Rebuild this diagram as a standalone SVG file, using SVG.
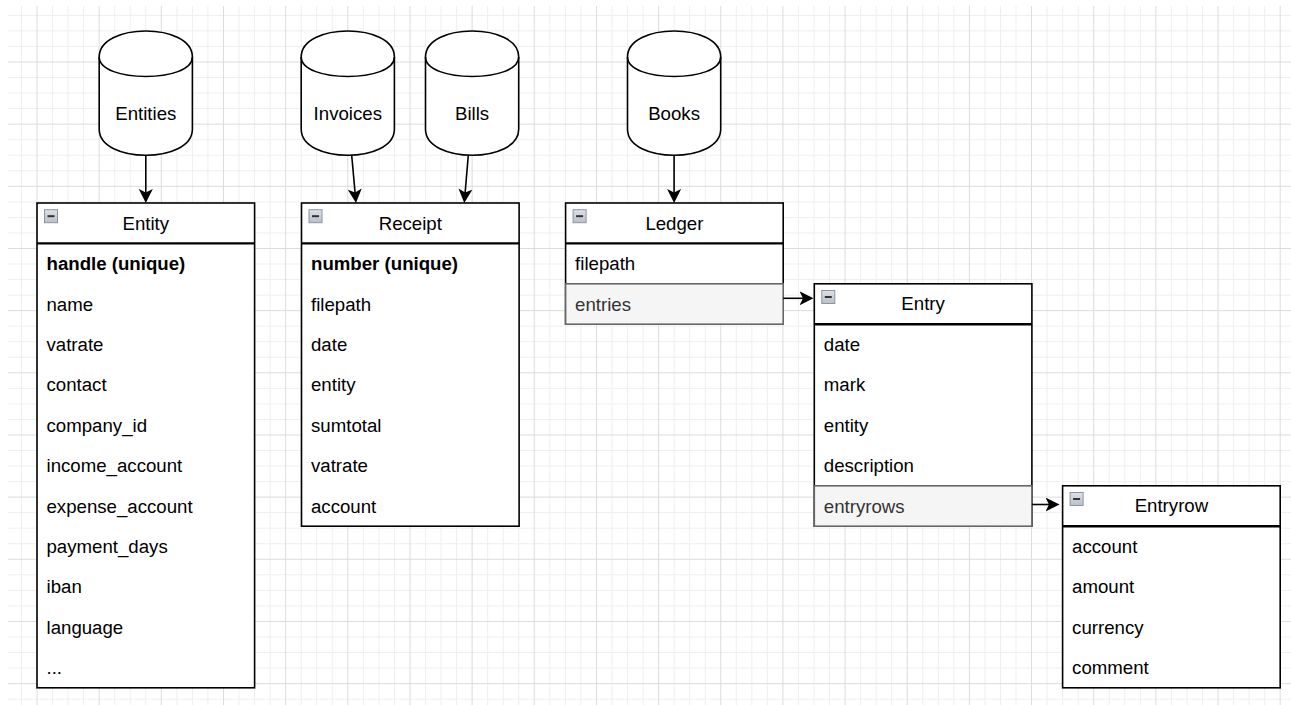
<svg xmlns="http://www.w3.org/2000/svg" xmlns:xlink="http://www.w3.org/1999/xlink" width="1291" height="705" viewBox="0 0 1291 705">
  <style>
    .grid-minor { fill: none; stroke: #efefef; stroke-width: 1; }
    .grid-major { fill: none; stroke: #dcdcdc; stroke-width: 1; }
    .box { fill: #ffffff; stroke: #000000; stroke-width: 1.6; }
    .sep { stroke: #000000; stroke-width: 2.4; }
    .alt { fill: #f5f5f5; stroke: #666666; stroke-width: 1.6; }
    .cyl { fill: #ffffff; stroke: #000000; stroke-width: 1.6; }
    .cyl-front { fill: none; stroke: #000000; stroke-width: 1.6; }
    text { font-family: "Liberation Sans", Arial, Helvetica, sans-serif; font-size: 18.65px; fill: #000000; }
    .title { text-anchor: middle; }
    .key { font-weight: bold; }
    .alt-text { fill: #333333; }
    .edge { fill: none; stroke: #000000; stroke-width: 1.6; marker-end: url(#arrow); }
  </style>
  <defs>
    <linearGradient id="togFill" x1="0" y1="0" x2="0" y2="1">
      <stop offset="0" stop-color="#dde1e8"/>
      <stop offset="1" stop-color="#b9c0cb"/>
    </linearGradient>
    <!-- collapse toggle shown in each table header -->
    <g id="toggle">
      <rect x="0.5" y="0.5" width="13" height="13" fill="url(#togFill)" stroke="#8e949d" stroke-width="1"/>
      <line x1="3.5" y1="7" x2="10.5" y2="7" stroke="#333333" stroke-width="2"/>
    </g>
    <!-- database cylinder, 93.2 x 124.2 -->
    <g id="cylinder">
      <path class="cyl" d="M0,26 C0,-8.67 93.2,-8.67 93.2,26 L93.2,98.2 C93.2,132.87 0,132.87 0,98.2 Z"/>
      <path class="cyl-front" d="M0,26 C0,52 93.2,52 93.2,26"/>
    </g>
    <marker id="arrow" markerUnits="userSpaceOnUse" viewBox="0 0 14 14" markerWidth="14" markerHeight="14" refX="4" refY="7" orient="auto">
      <path d="M14,7 L0,0 L3.5,7 L0,14 Z" fill="#000000"/>
    </marker>
  </defs>

  <rect x="0" y="0" width="1291" height="705" fill="#ffffff"/>

  <!-- background grid -->
  <g id="grid">
    <path class="grid-minor" d="M21.46 6V705M52.54 6V705M68.08 6V705M83.62 6V705M114.7 6V705M130.24 6V705M145.78 6V705M176.86 6V705M192.4 6V705M207.94 6V705M239.02 6V705M254.56 6V705M270.1 6V705M301.18 6V705M316.72 6V705M332.26 6V705M363.34 6V705M378.88 6V705M394.42 6V705M425.5 6V705M441.04 6V705M456.58 6V705M487.66 6V705M503.2 6V705M518.74 6V705M549.82 6V705M565.36 6V705M580.9 6V705M611.98 6V705M627.52 6V705M643.06 6V705M674.14 6V705M689.68 6V705M705.22 6V705M736.3 6V705M751.84 6V705M767.38 6V705M798.46 6V705M814 6V705M829.54 6V705M860.62 6V705M876.16 6V705M891.7 6V705M922.78 6V705M938.32 6V705M953.86 6V705M984.94 6V705M1000.48 6V705M1016.02 6V705M1047.1 6V705M1062.64 6V705M1078.18 6V705M1109.26 6V705M1124.8 6V705M1140.34 6V705M1171.42 6V705M1186.96 6V705M1202.5 6V705M1233.58 6V705M1249.12 6V705M1264.66 6V705"/>
    <path class="grid-minor" d="M8 15.38H1291M8 30.92H1291M8 46.46H1291M8 77.54H1291M8 93.08H1291M8 108.62H1291M8 139.7H1291M8 155.24H1291M8 170.78H1291M8 201.86H1291M8 217.4H1291M8 232.94H1291M8 264.02H1291M8 279.56H1291M8 295.1H1291M8 326.18H1291M8 341.72H1291M8 357.26H1291M8 388.34H1291M8 403.88H1291M8 419.42H1291M8 450.5H1291M8 466.04H1291M8 481.58H1291M8 512.66H1291M8 528.2H1291M8 543.74H1291M8 574.82H1291M8 590.36H1291M8 605.9H1291M8 636.98H1291M8 652.52H1291M8 668.06H1291M8 699.14H1291"/>
    <path class="grid-major" d="M37 6V705M99.16 6V705M161.32 6V705M223.48 6V705M285.64 6V705M347.8 6V705M409.96 6V705M472.12 6V705M534.28 6V705M596.44 6V705M658.6 6V705M720.76 6V705M782.92 6V705M845.08 6V705M907.24 6V705M969.4 6V705M1031.56 6V705M1093.72 6V705M1155.88 6V705M1218.04 6V705M1280.2 6V705"/>
    <path class="grid-major" d="M8 62H1291M8 124.16H1291M8 186.32H1291M8 248.48H1291M8 310.64H1291M8 372.8H1291M8 434.96H1291M8 497.12H1291M8 559.28H1291M8 621.44H1291M8 683.6H1291"/>
  </g>

  <!-- data stores -->
  <g id="store-entities">
    <use href="#cylinder" xlink:href="#cylinder" x="99.2" y="31"/>
    <text class="title" x="145.8" y="119.5">Entities</text>
  </g>
  <g id="store-invoices">
    <use href="#cylinder" xlink:href="#cylinder" x="301.2" y="31"/>
    <text class="title" x="347.8" y="119.5">Invoices</text>
  </g>
  <g id="store-bills">
    <use href="#cylinder" xlink:href="#cylinder" x="425.5" y="31"/>
    <text class="title" x="472.1" y="119.5">Bills</text>
  </g>
  <g id="store-books">
    <use href="#cylinder" xlink:href="#cylinder" x="627.5" y="31"/>
    <text class="title" x="674.1" y="119.5">Books</text>
  </g>

  <!-- tables -->
  <g id="table-entity">
    <rect class="box" x="37" y="203" width="217.6" height="484.8"/>
    <line class="sep" x1="37" y1="243.4" x2="254.6" y2="243.4"/>
    <use href="#toggle" xlink:href="#toggle" x="44" y="209.2"/>
    <text class="title" x="145.8" y="229.6">Entity</text>
    <text class="key" x="46.5" y="270.2">handle (unique)</text>
    <text x="46.5" y="310.6">name</text>
    <text x="46.5" y="351">vatrate</text>
    <text x="46.5" y="391.4">contact</text>
    <text x="46.5" y="431.8">company_id</text>
    <text x="46.5" y="472.2">income_account</text>
    <text x="46.5" y="512.6">expense_account</text>
    <text x="46.5" y="553">payment_days</text>
    <text x="46.5" y="593.4">iban</text>
    <text x="46.5" y="633.8">language</text>
    <text x="46.5" y="674.2">...</text>
  </g>

  <g id="table-receipt">
    <rect class="box" x="301.5" y="203" width="217.6" height="323.2"/>
    <line class="sep" x1="301.5" y1="243.4" x2="519.1" y2="243.4"/>
    <use href="#toggle" xlink:href="#toggle" x="308.5" y="209.2"/>
    <text class="title" x="410.3" y="229.6">Receipt</text>
    <text class="key" x="311" y="270.2">number (unique)</text>
    <text x="311" y="310.6">filepath</text>
    <text x="311" y="351">date</text>
    <text x="311" y="391.4">entity</text>
    <text x="311" y="431.8">sumtotal</text>
    <text x="311" y="472.2">vatrate</text>
    <text x="311" y="512.6">account</text>
  </g>

  <g id="table-ledger">
    <rect class="box" x="565.6" y="203" width="217.6" height="121.2"/>
    <line class="sep" x1="565.6" y1="243.4" x2="783.2" y2="243.4"/>
    <use href="#toggle" xlink:href="#toggle" x="572.6" y="209.2"/>
    <text class="title" x="674.4" y="229.6">Ledger</text>
    <text x="575.1" y="270.2">filepath</text>
    <rect class="alt" x="565.6" y="283.8" width="217.6" height="40.4"/>
    <text class="alt-text" x="575.1" y="310.6">entries</text>
  </g>

  <g id="table-entry">
    <rect class="box" x="814.3" y="283.8" width="217.6" height="242.4"/>
    <line class="sep" x1="814.3" y1="324.2" x2="1031.9" y2="324.2"/>
    <use href="#toggle" xlink:href="#toggle" x="821.3" y="290"/>
    <text class="title" x="923.1" y="310.4">Entry</text>
    <text x="823.8" y="351">date</text>
    <text x="823.8" y="391.4">mark</text>
    <text x="823.8" y="431.8">entity</text>
    <text x="823.8" y="472.2">description</text>
    <rect class="alt" x="814.3" y="485.8" width="217.6" height="40.4"/>
    <text class="alt-text" x="823.8" y="512.6">entryrows</text>
  </g>

  <g id="table-entryrow">
    <rect class="box" x="1062.6" y="485.8" width="217.6" height="202"/>
    <line class="sep" x1="1062.6" y1="526.2" x2="1280.2" y2="526.2"/>
    <use href="#toggle" xlink:href="#toggle" x="1069.6" y="492"/>
    <text class="title" x="1171.4" y="512.4">Entryrow</text>
    <text x="1072.1" y="553">account</text>
    <text x="1072.1" y="593.4">amount</text>
    <text x="1072.1" y="633.8">currency</text>
    <text x="1072.1" y="674.2">comment</text>
  </g>

  <!-- connectors: lines stop short of the tip, the marker carries the last 10px -->
  <g id="connectors">
    <path class="edge" d="M145.8,155.2 L145.8,193"/>
    <path class="edge" d="M351.7,155.2 L355.1,193"/>
    <path class="edge" d="M468.3,155.2 L465.1,193"/>
    <path class="edge" d="M674.1,155.2 L674.1,193"/>
    <path class="edge" d="M783.2,298.3 L803.5,298.3"/>
    <path class="edge" d="M1031.9,504.5 L1049.5,504.5"/>
  </g>
</svg>
